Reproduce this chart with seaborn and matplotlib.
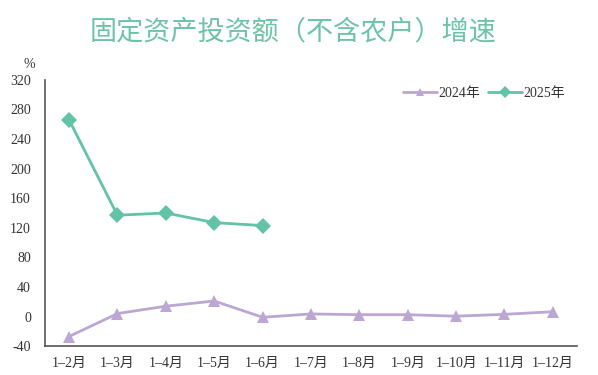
import matplotlib
matplotlib.use("Agg")
import matplotlib.pyplot as plt
import seaborn as sns
import pandas as pd
import numpy as np

categories = ["1–2月", "1–3月", "1–4月", "1–5月", "1–6月", "1–7月",
              "1–8月", "1–9月", "1–10月", "1–11月", "1–12月"]
v2024 = [-27, 4, 14, 21, -1, 3.5, 2.5, 2.5, 0.5, 3, 6.5]
v2025 = [266, 137, 140, 127, 123]
yticks = [-40, 0, 40, 80, 120, 160, 200, 240, 280, 320]

sns.set_theme(style="white")
plt.rcParams['font.family'] = ['Liberation Serif', 'Noto Sans CJK SC']

rows = []
for i, v in enumerate(v2024):
    rows.append({"x": i, "v": v, "year": "2024年"})
for i, v in enumerate(v2025):
    rows.append({"x": i, "v": v, "year": "2025年"})
df = pd.DataFrame(rows)

c24 = "#bba7d2"
c25 = "#62c3a6"

fig = plt.figure(figsize=(5.98, 3.75), dpi=100)
ax = fig.add_axes([0.075, 0.077, 0.89, 0.71])

sns.lineplot(data=df, x="x", y="v", hue="year", style="year",
             palette={"2024年": c24, "2025年": c25},
             markers={"2024年": "^", "2025年": "D"}, dashes=False,
             markersize=8, linewidth=2, markeredgewidth=0, ax=ax, sort=False)

n = len(categories)
ax.set_xlim(-0.5, n - 0.5)
ax.set_ylim(-40, 320)
ax.set_xticks(range(n))
ax.set_xticklabels(categories, fontsize=10, color="#333333")
ax.set_yticks(yticks)
ax.set_yticklabels([str(t) for t in yticks], fontsize=10, color="#333333")
ax.set_xticks(np.arange(0.5, n, 1.0), minor=True)
ax.tick_params(axis="x", which="major", length=0, pad=8)
ax.tick_params(axis="x", which="minor", length=4, direction="in", color="#555555", width=1)
ax.tick_params(axis="y", length=0, pad=10)
ax.set_xlabel("")
ax.set_ylabel("")
for s in ["top", "right"]:
    ax.spines[s].set_visible(False)
for s in ["left", "bottom"]:
    ax.spines[s].set_color("#555555")
    ax.spines[s].set_linewidth(1.2)

ax.text(-0.03, 1.035, "%", transform=ax.transAxes, fontsize=10, color="#333333",
        ha="center", va="bottom")

leg = ax.legend(loc="upper right", bbox_to_anchor=(1.0, 1.02), ncol=2, frameon=False,
                fontsize=10, handlelength=2.4, columnspacing=0.6, handletextpad=0.1,
                markerscale=0.8)
for t in leg.get_texts():
    t.set_color("#333333")

fig.text(0.49, 0.915, "固定资产投资额（不含农户）增速", ha="center", va="center",
         fontsize=19.5, color="#6cc4a4", family=["Noto Sans CJK SC"])

fig.savefig("out.png", dpi=100)
